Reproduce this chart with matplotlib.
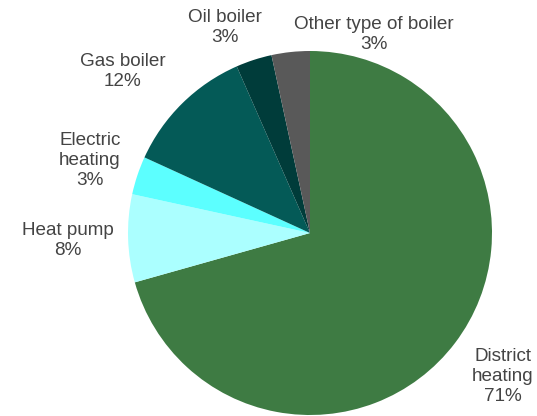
import matplotlib
matplotlib.use("Agg")
import matplotlib.pyplot as plt

categories = ["District\nheating", "Heat pump", "Electric\nheating", "Gas boiler", "Oil boiler", "Other type of boiler"]
values = [70.7, 7.8, 3.4, 11.6, 3.2, 3.4]
colors = ["#3E7B43", "#ABFFFF", "#5CFFFF", "#045A57", "#003C3A", "#595959"]
label_pos = [(1.06, -0.79), (-1.33, -0.04), (-1.21, 0.40), (-1.03, 0.885), (-0.47, 1.13), (0.35, 1.09)]

plt.rcParams['font.family'] = ['Liberation Sans', 'DejaVu Sans']

W, H = 537, 416
fig = plt.figure(figsize=(W / 100, H / 100), dpi=100)
ax = fig.add_axes([0, 0, 1, 1])
R = 182.0
cx, cy = 310.0, 233.0

ax.pie(values, colors=colors, startangle=90, counterclock=False, radius=1.0,
       wedgeprops=dict(linewidth=0))
ax.set_xlim(-cx / R, (W - cx) / R)
ax.set_ylim(-(H - cy) / R, cy / R)
ax.set_aspect('equal')
ax.axis('off')

total = sum(values)
for name, v, (lx, ly) in zip(categories, values, label_pos):
    ax.text(lx, ly, f"{name}\n{round(v / total * 100):.0f}%", ha='center', va='center',
            fontsize=13.6, color='#444444', linespacing=1.22)

fig.savefig("out.png", dpi=100)
